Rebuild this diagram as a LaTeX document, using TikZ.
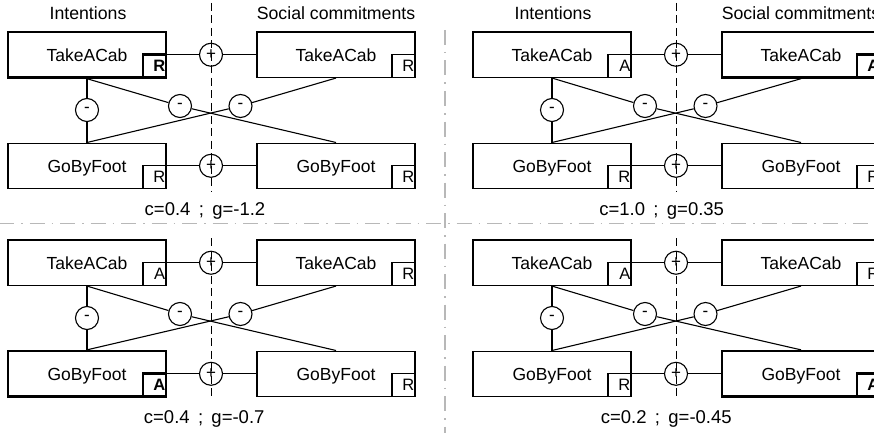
\documentclass[tikz,border=0pt]{standalone}
\usepackage{fontspec}
\setmainfont{Liberation Sans}
\newcommand\mypanel[9]{%
  \node[rbox,#2] (#1IT) at (87,54.75) {TakeACab};
  \node[tag,#2] (#1ITt) at (#1IT.south east) {#3};
  \node[rbox,#4] (#1ST) at (336,54.75) {TakeACab};
  \node[tag,#4] (#1STt) at (#1ST.south east) {#5};
  \node[rbox,#6] (#1IG) at (87,165.8) {GoByFoot};
  \node[tag,#6] (#1IGt) at (#1IG.south east) {#7};
  \node[rbox,#8] (#1SG) at (336,165.8) {GoByFoot};
  \node[tag,#8] (#1SGt) at (#1SG.south east) {#9};
  \node[pm] (#1pT) at (211,54.75) {+};
  \node[pm] (#1pG) at (211,165.8) {+};
  \node[pm] (#1mV) at (87,110) {-};
  \node[pm] (#1mA) at (180,106) {-};
  \node[pm] (#1mB) at (240.5,106) {-};
  \draw[conn] (#1IT) -- (#1pT) -- (#1ST);
  \draw[conn] (#1IG) -- (#1pG) -- (#1SG);
  \draw[conn] (#1IT.south) -- (#1mV) -- (#1IG.north);
  \draw[conn] (#1IT.south) -- (#1mA) -- (#1SG.north);
  \draw[conn] (#1IG.north) -- (#1mB) -- (#1ST.south);
}
\begin{document}
\begin{tikzpicture}[x=1pt,y=-1pt,
  rbox/.style={draw, line width=1.1pt, minimum width=158pt, minimum height=45.5pt,
    inner sep=0pt, text height=12.8pt, text depth=0pt, font=\fontsize{17.5}{20}\selectfont},
  thickbox/.style={line width=2.4pt},
  tag/.style={draw, line width=1.1pt, minimum width=23pt, minimum height=23pt, inner sep=0pt,
    anchor=south east, text width=21.5pt, align=right, text height=11.8pt, text depth=0pt,
    font=\fontsize{16.5}{18}\selectfont},
  pm/.style={draw, circle, line width=1.1pt, minimum size=23pt, inner sep=0pt,
    font=\fontsize{17}{18}\selectfont},
  conn/.style={line width=1.1pt},
  head/.style={font=\fontsize{17.7}{20}\selectfont, anchor=base, inner sep=0pt},
  captext/.style={font=\fontsize{18.5}{20}\selectfont, anchor=base, inner sep=0pt},
  dashline/.style={line width=1pt, dash pattern=on 8pt off 4.5pt},
  sepline/.style={line width=1.2pt, black!28, dash pattern=on 15pt off 7pt on 1.5pt off 7pt}]
\useasboundingbox (0,0) rectangle (874,433);
% separators
\draw[sepline, dash phase=1pt] (0,223.3) -- (874,223.3);
\draw[sepline] (445,30) -- (445,433);
% dashed middle lines
\draw[dashline] (211,3) -- (211,192);
\draw[dashline] (676,3) -- (676,192);
\draw[dashline] (211,238) -- (211,400);
\draw[dashline] (676,238) -- (676,400);
% headers
\node[head] (hI1) at (88,19.5) {Intentions};
\node[head] (hS1) at (336,19.5) {Social commitments};
\node[head] (hI2) at (553,19.5) {Intentions};
\node[head] (hS2) at (801,19.5) {Social commitments};
% panels
\mypanel{a}{thickbox}{\bfseries R}{}{R}{}{R}{}{R}
\begin{scope}[shift={(465,0)}]
\mypanel{b}{}{A}{thickbox}{\bfseries A}{}{R}{}{R}
\end{scope}
\begin{scope}[shift={(0,208)}]
\mypanel{c}{}{A}{}{R}{thickbox}{\bfseries A}{}{R}
\end{scope}
\begin{scope}[shift={(465,208)}]
\mypanel{d}{}{A}{}{R}{}{R}{thickbox}{\bfseries A}
\end{scope}
% captions
\node[captext] (c1) at (205,215.7) {c=0.4\hspace{0.45em};\hspace{0.45em}g=-1.2};
\node[captext] (c2) at (661.7,215.7) {c=1.0\hspace{0.45em};\hspace{0.45em}g=0.35};
\node[captext] (c3) at (204.2,423.5) {c=0.4\hspace{0.45em};\hspace{0.45em}g=-0.7};
\node[captext] (c4) at (666.3,423.5) {c=0.2\hspace{0.45em};\hspace{0.45em}g=-0.45};
\end{tikzpicture}
\end{document}
